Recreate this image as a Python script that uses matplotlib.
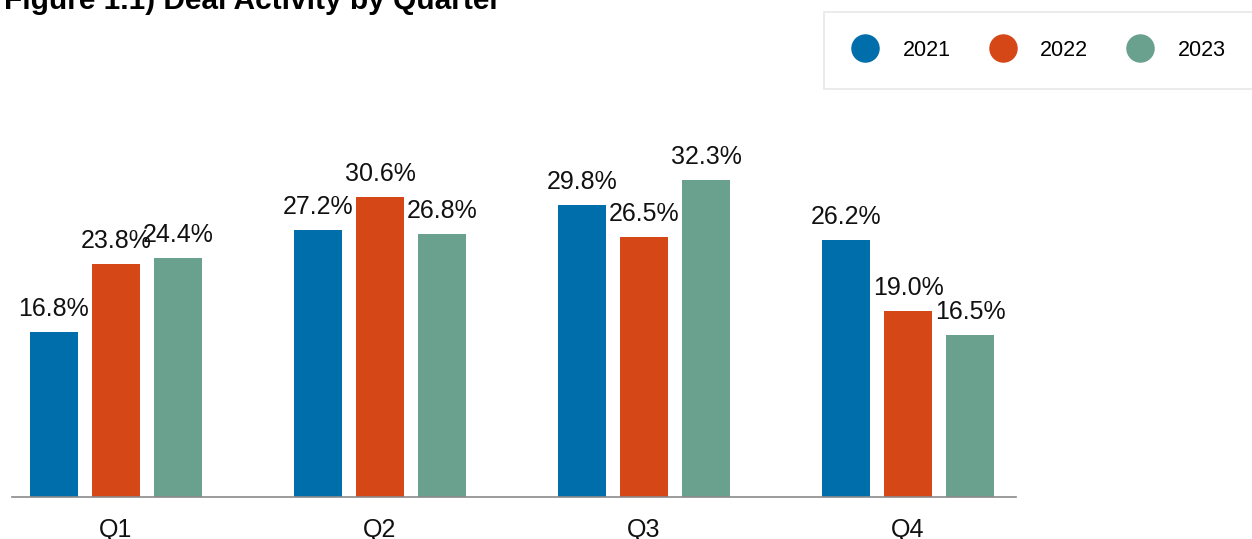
import matplotlib.pyplot as plt
from matplotlib.lines import Line2D
import numpy as np

plt.rcParams["font.family"] = ["Liberation Sans", "DejaVu Sans"]

quarters = ["Q1", "Q2", "Q3", "Q4"]
years = ["2021", "2022", "2023"]
share_2021 = [16.8, 27.2, 29.8, 26.2]
share_2022 = [23.8, 30.6, 26.5, 19.0]
share_2023 = [24.4, 26.8, 32.3, 16.5]

colors = ["#006eaa", "#d64717", "#6aa08e"]

W, H = 1252, 539
fig = plt.figure(figsize=(W / 100, H / 100), dpi=100)

# axes placed in pixel terms: baseline at y=497, x from 12 to 1016
ax = fig.add_axes([12 / W, 1 - 497 / H, 1004 / W, 353 / H])

x = np.arange(len(quarters))
width = 0.182
offset = 0.235

for i, (vals, c) in enumerate(zip([share_2021, share_2022, share_2023], colors)):
    pos = x + (i - 1) * offset
    bars = ax.bar(pos, vals, width=width, color=c, zorder=2)
    for b, v in zip(bars, vals):
        ax.annotate(f"{v:.1f}%", (b.get_x() + b.get_width() / 2, v),
                    xytext=(0, 11.5), textcoords="offset points",
                    ha="center", va="baseline", fontsize=18, color="#111111")

ax.set_xlim(-0.394, 3.409)
ax.set_ylim(0, 36)
ax.set_xticks(x)
ax.set_xticklabels(quarters, fontsize=18, color="#111111")
ax.tick_params(axis="x", length=0, pad=15)
ax.set_yticks([])
for s in ["top", "right", "left"]:
    ax.spines[s].set_visible(False)
ax.spines["bottom"].set_color("#8a8a8a")
ax.spines["bottom"].set_linewidth(1.2)

fig.text(4 / W, 1 - 9 / H, "Figure 1.1) Deal Activity by Quarter",
         fontsize=21.5, fontweight="bold", va="baseline", ha="left")

handles = [Line2D([], [], marker="o", linestyle="none", markersize=19.5,
                  markerfacecolor=c, markeredgecolor=c) for c in colors]
leg = fig.legend(handles, years, loc="upper left",
                 bbox_to_anchor=(824 / W, 1 - 12 / H), ncol=3,
                 fontsize=15.5, frameon=True, fancybox=False,
                 handlelength=1.25, handletextpad=1.1, columnspacing=1.8,
                 borderpad=1.3, borderaxespad=0)
leg.get_frame().set_edgecolor("#e2e2e2")
leg.get_frame().set_linewidth(1.2)

fig.savefig("out.png", dpi=100)
